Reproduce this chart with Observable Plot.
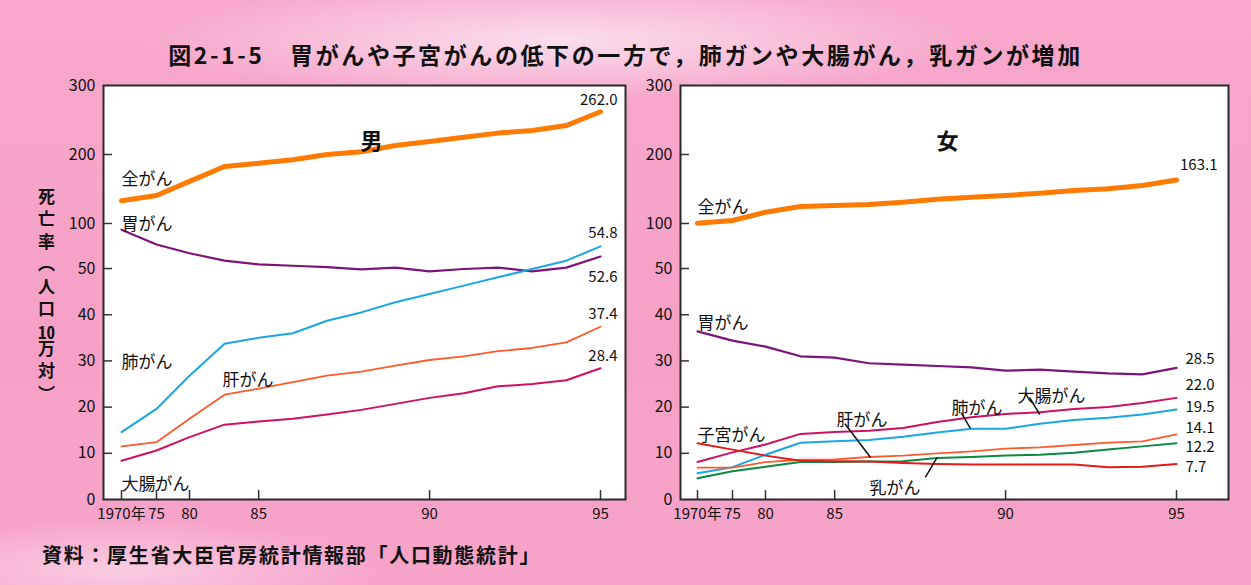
<!DOCTYPE html>
<html><head><meta charset="utf-8">
<script src="https://cdn.jsdelivr.net/npm/d3@7"></script>
<script src="https://cdn.jsdelivr.net/npm/@observablehq/plot@0.6"></script>
<style>
html,body{margin:0;padding:0;}
body{width:1251px;height:585px;overflow:hidden;}
#wrap{position:relative;width:1251px;height:585px;overflow:hidden;
  font-family:"Noto Sans CJK JP","Noto Sans",sans-serif;color:#111;
  background:
    radial-gradient(ellipse 420px 60px at 560px 40px, rgba(250,225,238,0.95), rgba(250,225,238,0) 100%),
    radial-gradient(ellipse 260px 50px at 120px 570px, rgba(250,215,232,0.8), rgba(250,215,232,0) 100%),
    linear-gradient(180deg,#f7a8cb 0%,#f6a0c6 60%,#f7a4c9 100%);}
#wrap svg{position:absolute;top:0;background:transparent!important;max-width:none!important;overflow:visible;}
#title{position:absolute;left:0;top:37px;width:1251px;text-align:center;font-size:23px;font-weight:bold;letter-spacing:2.6px;white-space:nowrap;}
#ylab{position:absolute;left:36px;top:188px;writing-mode:vertical-rl;font-size:17px;font-weight:bold;letter-spacing:5.5px;line-height:20px;}
#ylab .tcy{text-combine-upright:all;}
#caption{position:absolute;left:42px;top:540px;font-size:20px;font-weight:bold;letter-spacing:1.7px;white-space:nowrap;}
</style></head>
<body><div id="wrap">
<div id="title">図2-1-5　胃がんや子宮がんの低下の一方で，肺ガンや大腸がん，乳ガンが増加</div>
<div id="ylab">死亡率（人口<span class="tcy">10</span>万対）</div>
<div id="caption">資料：厚生省大臣官房統計情報部「人口動態統計」</div>
</div>
<script>
// ---- data ----
const years = [1970,1975,1980,1984,1985,1986,1987,1988,1989,1990,1991,1992,1993,1994,1995];
const xTicks = [1970,1975,1980,1985,1990,1995];
const yTicks = [0,10,20,30,40,50,100,200,300];

// 男
const maleAll     = [133,140.6,161,182.6,187.4,192.3,200,204,213,218.8,225,231,234.8,242,262.0];
const maleStomach = [58.4,55.2,53.3,51.7,50.9,50.6,50.3,49.8,50.2,49.4,49.9,50.2,49.4,50.2,52.6];
const maleLung    = [14.6,19.6,26.8,33.7,35.0,36.0,38.7,40.5,42.7,44.5,46.3,48.1,49.9,51.7,54.8];
const maleLiver   = [11.5,12.4,17.5,22.7,24.0,25.4,26.8,27.7,29.0,30.2,31.0,32.1,32.8,34.0,37.4];
const maleColon   = [8.4,10.6,13.5,16.2,16.9,17.5,18.4,19.4,20.7,22.0,23.0,24.5,25.0,25.8,28.4];

// 女
const femaleAll     = [100.4,104.3,116.4,124.6,126,127.5,130.9,135,138,140.6,144,147.8,150.3,155,163.1];
const femaleStomach = [36.4,34.4,33.1,31.0,30.7,29.5,29.2,28.9,28.6,27.9,28.1,27.7,27.3,27.1,28.5];
const femaleColon   = [8.1,10.2,11.9,14.2,14.6,14.9,15.5,16.8,17.8,18.5,18.9,19.6,20.0,20.9,22.0];
const femaleLung    = [5.7,7.0,9.7,12.3,12.6,12.9,13.6,14.5,15.3,15.3,16.4,17.2,17.7,18.4,19.5];
const femaleLiver   = [6.9,6.9,8.1,8.6,8.7,9.2,9.5,10.0,10.4,11.0,11.3,11.8,12.3,12.6,14.1];
const femaleBreast  = [4.6,6.1,7.1,8.1,8.1,8.2,8.3,9.0,9.2,9.5,9.7,10.1,10.8,11.5,12.2];
const femaleUterus  = [12.2,10.8,9.5,8.4,8.3,8.2,7.9,7.7,7.6,7.6,7.6,7.6,7.0,7.1,7.7];

// ---- drawing ----
const FONT = '"Noto Sans CJK JP","Noto Sans",sans-serif';
const C = {all:"#ff7a00", stomach:"#7d1479", lung:"#1aa6e2", liver:"#ff5a2a", colon:"#cf0f62", uterus:"#e3191c", breast:"#0a8a3e"};
const TOP = 85, BOTTOM = 499, H = 585;

// broken axes of the original: compressed 1970-84 on x; 0-50 stretched, 100-300 compressed on y
const xPiece = d3.scaleLinear().domain([1970, 1975, 1980, 1984, 1995]).range([121, 156, 189, 224, 600]);
const yPiece = d3.scaleLinear().domain([0, 58.6, 100, 300]).range([0, 270.7, 276, 414]);

function panel({width, left, marginLeft, marginRight, series, valueLabels, seriesLabels, leaders, sex}) {
  const frameW = width - marginLeft - marginRight, frameH = BOTTOM - TOP;
  const rows = series.flatMap(s => years.map((yr, i) => ({year: yr, value: s.values[i], key: s.key})));
  const last = series.map(s => ({year: 1995, value: s.values[s.values.length - 1], key: s.key}));
  const marks = [
    Plot.frame({fill: "white", stroke: null}),
    ...series.map(s => Plot.line(rows.filter(r => r.key === s.key), {x: "year", y: "value", stroke: s.color, strokeWidth: s.width, strokeLinejoin: "round", strokeLinecap: "round"})),
    Plot.ruleY(yTicks.slice(1, -1), {y: d => d, insetRight: frameW - 9, stroke: "#333", strokeWidth: 1.5}),
    Plot.ruleX(xTicks, {x: d => d, insetTop: frameH - 9, stroke: "#333", strokeWidth: 1.5}),
    Plot.frame({stroke: "#2a2a2a", strokeWidth: 2}),
    Plot.text(yTicks, {y: d => d, text: d => String(d), frameAnchor: "left", textAnchor: "end", dx: -8, fontSize: 16, fill: "#111"}),
    Plot.text(xTicks, {x: d => d, text: d => d === 1970 ? "1970年" : String(d).slice(2), frameAnchor: "bottom", lineAnchor: "top", dy: 9, fontSize: 15, fill: "#111"}),
    Plot.text([sex], {frameAnchor: "top-left", dx: 360 - marginLeft, dy: 48, fontSize: 22, fontWeight: "bold", fill: "#111"}),
    ...valueLabels.map(v => Plot.text(last.filter(d => d.key === v.key), {
      x: "year", y: "value", text: d => d.value.toFixed(1), textAnchor: v.anchor, dx: v.dx, dy: v.dy, fontSize: 15, fill: "#111"})),
    ...seriesLabels.map(l => Plot.text([l.text], {frameAnchor: "top-left", textAnchor: "start", dx: l.px - marginLeft, dy: l.py - TOP, fontSize: 17, fill: "#111"})),
    Plot.link(leaders, {x1: "x1", y1: "y1", x2: "x2", y2: "y2", stroke: "#111", strokeWidth: 1.5})
  ];
  const svg = Plot.plot({
    width, height: H, marginLeft, marginRight, marginTop: TOP, marginBottom: H - BOTTOM,
    style: {background: "transparent", fontSize: "15px", fontFamily: FONT, color: "#111", overflow: "visible"},
    x: {transform: xPiece, domain: [marginLeft, width - marginRight], axis: null},
    y: {transform: yPiece, domain: [0, 414], axis: null},
    marks
  });
  svg.style.left = left + "px";
  document.getElementById("wrap").appendChild(svg);
}

panel({
  width: 640, left: 0, marginLeft: 103, marginRight: 15, sex: "男",
  series: [
    {key: "all", values: maleAll, color: C.all, width: 5},
    {key: "stomach", values: maleStomach, color: C.stomach, width: 2.2},
    {key: "lung", values: maleLung, color: C.lung, width: 2},
    {key: "liver", values: maleLiver, color: C.liver, width: 1.8},
    {key: "colon", values: maleColon, color: C.colon, width: 2}
  ],
  valueLabels: [
    {key: "all", anchor: "end", dx: 17, dy: -12},
    {key: "lung", anchor: "end", dx: 17, dy: -13},
    {key: "stomach", anchor: "end", dx: 17, dy: 21},
    {key: "liver", anchor: "end", dx: 17, dy: -13},
    {key: "colon", anchor: "end", dx: 17, dy: -12}
  ],
  seriesLabels: [
    {text: "全がん", px: 121, py: 172},
    {text: "胃がん", px: 121, py: 217},
    {text: "肺がん", px: 121, py: 355},
    {text: "肝がん", px: 222, py: 373},
    {text: "大腸がん", px: 121, py: 477}
  ],
  leaders: []
});

panel({
  width: 675, left: 576, marginLeft: 104, marginRight: 23, sex: "女",
  series: [
    {key: "all", values: femaleAll, color: C.all, width: 5},
    {key: "stomach", values: femaleStomach, color: C.stomach, width: 2.2},
    {key: "colon", values: femaleColon, color: C.colon, width: 2},
    {key: "lung", values: femaleLung, color: C.lung, width: 2},
    {key: "liver", values: femaleLiver, color: C.liver, width: 1.8},
    {key: "breast", values: femaleBreast, color: C.breast, width: 2},
    {key: "uterus", values: femaleUterus, color: C.uterus, width: 2}
  ],
  valueLabels: [
    {key: "all", anchor: "end", dx: 41, dy: -15},
    {key: "stomach", anchor: "start", dx: 9, dy: -9},
    {key: "colon", anchor: "start", dx: 9, dy: -13},
    {key: "lung", anchor: "start", dx: 9, dy: -2},
    {key: "liver", anchor: "start", dx: 9, dy: -6},
    {key: "breast", anchor: "start", dx: 9, dy: 4},
    {key: "uterus", anchor: "start", dx: 9, dy: 3}
  ],
  seriesLabels: [
    {text: "全がん", px: 697 - 576, py: 200},
    {text: "胃がん", px: 697 - 576, py: 316},
    {text: "子宮がん", px: 697 - 576, py: 428},
    {text: "肝がん", px: 836 - 576, py: 413},
    {text: "乳がん", px: 869 - 576, py: 481},
    {text: "肺がん", px: 951 - 576, py: 401},
    {text: "大腸がん", px: 1017 - 576, py: 389}
  ],
  leaders: [
    {x1: 1985.3, y1: 16.4, x2: 1986.05, y2: 9.1},
    {x1: 1987.65, y1: 4.8, x2: 1988.0, y2: 9.1},
    {x1: 1988.7, y1: 18.8, x2: 1988.97, y2: 15.4},
    {x1: 1990.7, y1: 22.1, x2: 1991.0, y2: 18.4}
  ]
});
</script>
</body></html>
